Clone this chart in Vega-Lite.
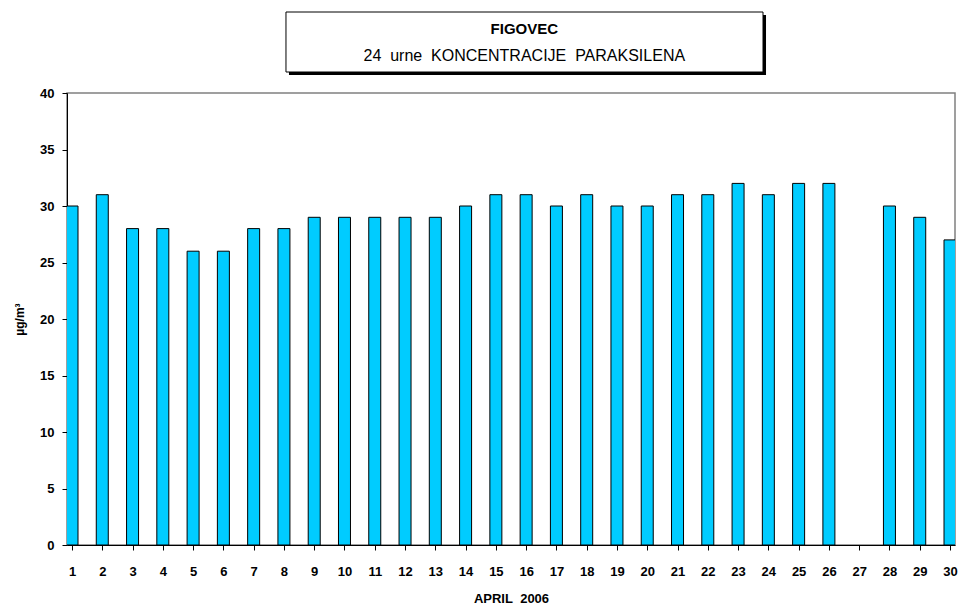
{
  "$schema": "https://vega.github.io/schema/vega-lite/v6.json",
  "background": "white",
  "padding": {"left": 12, "top": 11, "right": 5, "bottom": 5},
  "config": {"font": "Liberation Sans", "view": {"stroke": null}},
  "bounds": "flush",
  "spacing": 21,
  "vconcat": [
    {
      "width": 888,
      "height": 60,
      "data": {"values": [{"title": "FIGOVEC", "subtitle": "24\u00a0 urne\u00a0 KONCENTRACIJE\u00a0 PARAKSILENA"}]},
      "layer": [
        {
          "mark": {"type": "rect", "fill": "black", "xOffset": 3, "x2Offset": 3, "yOffset": 3, "y2Offset": 3},
          "encoding": {
            "x": {"datum": 0.2466, "type": "quantitative", "scale": {"domain": [0, 1]}, "axis": null},
            "x2": {"datum": 0.7838},
            "y": {"datum": 0, "type": "quantitative", "scale": {"domain": [0, 1]}, "axis": null},
            "y2": {"datum": 1}
          }
        },
        {
          "mark": {"type": "rect", "fill": "white", "stroke": "black", "strokeWidth": 1},
          "encoding": {
            "x": {"datum": 0.2466, "type": "quantitative", "scale": {"domain": [0, 1]}, "axis": null},
            "x2": {"datum": 0.7838},
            "y": {"datum": 0, "type": "quantitative", "scale": {"domain": [0, 1]}, "axis": null},
            "y2": {"datum": 1}
          }
        },
        {
          "mark": {"type": "text", "fontWeight": "bold", "fontSize": 15, "baseline": "middle", "align": "center", "color": "black"},
          "encoding": {
            "text": {"field": "title"},
            "x": {"datum": 0.515, "type": "quantitative", "scale": {"domain": [0, 1]}, "axis": null},
            "y": {"datum": 0.717, "type": "quantitative", "scale": {"domain": [0, 1]}, "axis": null}
          }
        },
        {
          "mark": {"type": "text", "fontSize": 16, "baseline": "middle", "align": "center", "color": "black"},
          "encoding": {
            "text": {"field": "subtitle"},
            "x": {"datum": 0.515, "type": "quantitative", "scale": {"domain": [0, 1]}, "axis": null},
            "y": {"datum": 0.267, "type": "quantitative", "scale": {"domain": [0, 1]}, "axis": null}
          }
        }
      ]
    },
    {
      "width": 888,
      "height": 452,
      "view": {"stroke": "#808080", "strokeWidth": 1.5},
      "data": {
        "values": [
          {"day": 1, "value": 30}, {"day": 2, "value": 31}, {"day": 3, "value": 28},
          {"day": 4, "value": 28}, {"day": 5, "value": 26}, {"day": 6, "value": 26},
          {"day": 7, "value": 28}, {"day": 8, "value": 28}, {"day": 9, "value": 29},
          {"day": 10, "value": 29}, {"day": 11, "value": 29}, {"day": 12, "value": 29},
          {"day": 13, "value": 29}, {"day": 14, "value": 30}, {"day": 15, "value": 31},
          {"day": 16, "value": 31}, {"day": 17, "value": 30}, {"day": 18, "value": 31},
          {"day": 19, "value": 30}, {"day": 20, "value": 30}, {"day": 21, "value": 31},
          {"day": 22, "value": 31}, {"day": 23, "value": 32}, {"day": 24, "value": 31},
          {"day": 25, "value": 32}, {"day": 26, "value": 32}, {"day": 28, "value": 30},
          {"day": 29, "value": 29}, {"day": 30, "value": 27}
        ]
      },
      "mark": {"type": "bar", "width": 12, "fill": "#00CCFF", "stroke": "black", "strokeWidth": 1, "clip": true},
      "encoding": {
        "x": {
          "field": "day", "type": "quantitative",
          "scale": {"domain": [1, 30], "nice": false, "zero": false},
          "axis": {
            "values": [1,2,3,4,5,6,7,8,9,10,11,12,13,14,15,16,17,18,19,20,21,22,23,24,25,26,27,28,29,30],
            "title": "APRIL\u00a0 2006", "titleFontWeight": "bold", "titleFontSize": 13, "titlePadding": 14,
            "labelFontWeight": "bold", "labelFontSize": 13, "labelPadding": 15,
            "grid": false, "domainColor": "black", "tickColor": "black", "tickSize": 5,
            "labelColor": "black", "titleColor": "black", "labelFlush": false, "labelOverlap": false
          }
        },
        "y": {
          "field": "value", "type": "quantitative",
          "scale": {"domain": [0, 40], "nice": false},
          "axis": {
            "values": [0,5,10,15,20,25,30,35,40],
            "title": "µg/m³", "titleFontWeight": "bold", "titleFontSize": 12, "titlePadding": 13,
            "labelFontWeight": "bold", "labelFontSize": 13, "labelPadding": 8,
            "grid": false, "domainColor": "black", "tickColor": "black", "tickSize": 5,
            "labelColor": "black", "titleColor": "black"
          }
        }
      }
    }
  ]
}
